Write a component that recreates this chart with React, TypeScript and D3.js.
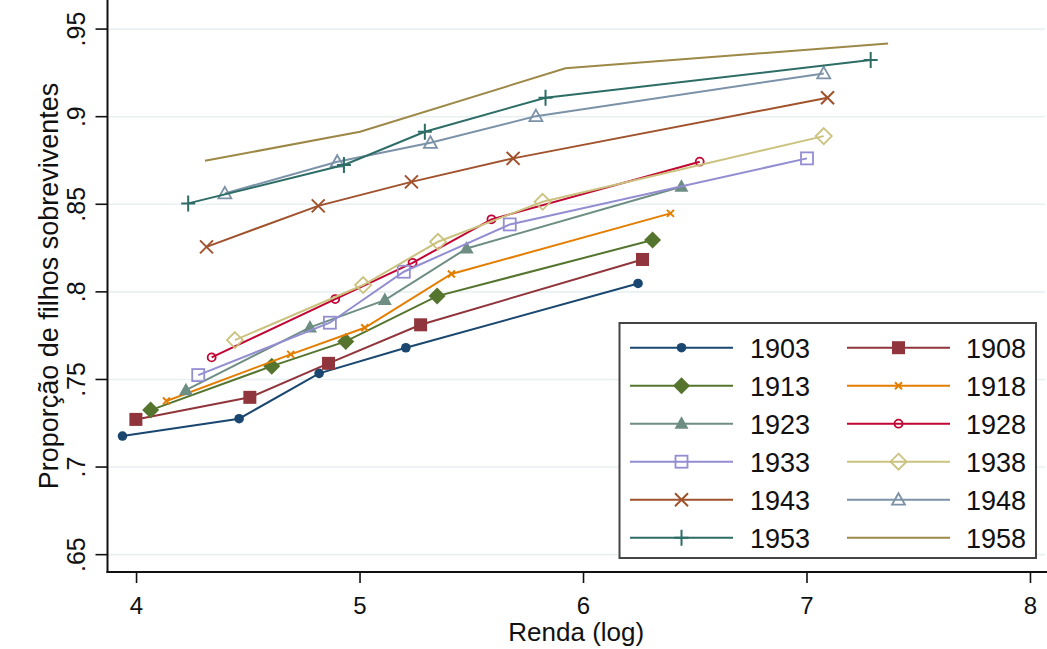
import React from "react";
import * as d3 from "d3";

// ---- data ----
const years = ["1903", "1908", "1913", "1918", "1923", "1928", "1933", "1938", "1943", "1948", "1953", "1958"];

const x1903 = [3.937, 4.459, 4.817, 5.205, 6.244];
const y1903 = [0.7177, 0.7276, 0.7535, 0.7681, 0.8048];
const x1908 = [3.997, 4.507, 4.859, 5.271, 6.264];
const y1908 = [0.7272, 0.7398, 0.7592, 0.7812, 0.8185];
const x1913 = [4.063, 4.605, 4.936, 5.345, 6.309];
const y1913 = [0.7325, 0.7576, 0.7717, 0.7976, 0.8296];
const x1918 = [4.134, 4.69, 5.021, 5.409, 6.389];
const y1918 = [0.7377, 0.7643, 0.7795, 0.8102, 0.8448];
const x1923 = [4.221, 4.776, 5.111, 5.477, 6.438];
const y1923 = [0.7439, 0.7797, 0.7953, 0.8248, 0.86];
const x1928 = [4.336, 4.889, 5.235, 5.588, 6.52];
const y1928 = [0.7626, 0.7959, 0.8166, 0.8414, 0.8743];
const x1933 = [4.276, 4.865, 5.196, 5.67, 7.0];
const y1933 = [0.7525, 0.7824, 0.8115, 0.8385, 0.8762];
const x1938 = [4.44, 5.014, 5.349, 5.817, 7.075];
const y1938 = [0.7725, 0.8039, 0.8286, 0.8514, 0.8889];
const x1943 = [4.313, 4.813, 5.23, 5.685, 7.092];
const y1943 = [0.8257, 0.8491, 0.8628, 0.8762, 0.9108];
const x1948 = [4.395, 4.898, 5.315, 5.787, 7.075];
const y1948 = [0.8562, 0.8743, 0.8851, 0.9003, 0.9247];
const x1953 = [4.231, 4.928, 5.29, 5.83, 7.285];
const y1953 = [0.8505, 0.8724, 0.8914, 0.9108, 0.9323];
const x1958 = [4.306, 5.0, 5.919, 7.363];
const y1958 = [0.8748, 0.8914, 0.9276, 0.9418];

const xs = [x1903, x1908, x1913, x1918, x1923, x1928, x1933, x1938, x1943, x1948, x1953, x1958];
const ys = [y1903, y1908, y1913, y1918, y1923, y1928, y1933, y1938, y1943, y1948, y1953, y1958];

const colors = ["#1a476f", "#90353b", "#55752f", "#e37e00", "#6e8e84", "#c10534", "#938dd2", "#cac27e", "#a0522d", "#7b92a8", "#2d6d66", "#9c8847"];
const markers = ["circleF", "squareF", "diamondF", "xSmall", "triF", "circleH", "squareH", "diamondH", "xBig", "triH", "plus", "none"];

const xTicks = [4, 5, 6, 7, 8];
const xTickLabels = ["4", "5", "6", "7", "8"];
const yTicks = [0.65, 0.7, 0.75, 0.8, 0.85, 0.9, 0.95];
const yTickLabels = [".65", ".7", ".75", ".8", ".85", ".9", ".95"];

const xTitle = "Renda (log)";
const yTitle = "Proporção de filhos sobreviventes";

// ---- layout ----
const W = 1047, H = 649;
const L = 107.5, R = 1045, T = 0, B = 572;
const FONT = "'Liberation Sans', Arial, sans-serif";

function Marker({ type, x, y, color }: { type: string; x: number; y: number; color: string }) {
  const sw = 1.8;
  switch (type) {
    case "circleF":
      return <circle cx={x} cy={y} r={4.8} fill={color} />;
    case "squareF":
      return <rect x={x - 6.5} y={y - 6.5} width={13} height={13} fill={color} />;
    case "diamondF":
      return <path d={`M${x},${y - 8.5}L${x + 8.5},${y}L${x},${y + 8.5}L${x - 8.5},${y}Z`} fill={color} />;
    case "xSmall":
      return <path d={`M${x - 3.5},${y - 3.5}L${x + 3.5},${y + 3.5}M${x - 3.5},${y + 3.5}L${x + 3.5},${y - 3.5}`} stroke={color} strokeWidth={2} />;
    case "triF":
      return <path d={`M${x},${y - 7.5}L${x + 7},${y + 5}L${x - 7},${y + 5}Z`} fill={color} />;
    case "circleH":
      return <circle cx={x} cy={y} r={4} fill="none" stroke={color} strokeWidth={sw} />;
    case "squareH":
      return <rect x={x - 6} y={y - 6} width={12} height={12} fill="none" stroke={color} strokeWidth={sw} />;
    case "diamondH":
      return <path d={`M${x},${y - 8}L${x + 8},${y}L${x},${y + 8}L${x - 8},${y}Z`} fill="none" stroke={color} strokeWidth={sw} />;
    case "xBig":
      return <path d={`M${x - 6.5},${y - 6.5}L${x + 6.5},${y + 6.5}M${x - 6.5},${y + 6.5}L${x + 6.5},${y - 6.5}`} stroke={color} strokeWidth={2} />;
    case "triH":
      return <path d={`M${x},${y - 6.5}L${x + 6.5},${y + 5}L${x - 6.5},${y + 5}Z`} fill="none" stroke={color} strokeWidth={sw} />;
    case "plus":
      return <path d={`M${x - 7},${y}L${x + 7},${y}M${x},${y - 8}L${x},${y + 8}`} stroke={color} strokeWidth={2} />;
    default:
      return null;
  }
}

export default function App() {
  const x = d3.scaleLinear().domain([3.87, 8.065]).range([L, R]);
  const y = d3.scaleLinear().domain([0.6401, 0.9666]).range([B, T]);
  const line = d3.line<[number, number]>().x((d) => x(d[0])).y((d) => y(d[1]));

  const legX = 619.5, legY = 323, legW = 416.5, legH = 235;
  const rowY = (i: number) => 347.7 + i * 38;

  return (
    <svg width={W} height={H} style={{ position: "absolute", left: 0, top: 0, background: "#fff" }} fontFamily={FONT}>
      <rect x={0} y={0} width={W} height={H} fill="#fff" />
      {/* grid */}
      {yTicks.map((t) => (
        <line key={"g" + t} x1={L} x2={R} y1={y(t)} y2={y(t)} stroke="#e8f0f2" strokeWidth={1.6} />
      ))}
      {/* series */}
      {years.map((yr, i) => {
        const pts: [number, number][] = xs[i].map((v, j) => [v, ys[i][j]]);
        return (
          <g key={yr}>
            <path d={line(pts) || ""} fill="none" stroke={colors[i]} strokeWidth={2} />
            {pts.map((p, j) => (
              <Marker key={j} type={markers[i]} x={x(p[0])} y={y(p[1])} color={colors[i]} />
            ))}
          </g>
        );
      })}
      {/* axes */}
      <line x1={L} x2={L} y1={0} y2={B + 1} stroke="#111" strokeWidth={2} />
      <line x1={L - 1} x2={W} y1={B} y2={B} stroke="#111" strokeWidth={2} />
      {yTicks.map((t, i) => (
        <g key={"yt" + t}>
          <line x1={L - 12} x2={L} y1={y(t)} y2={y(t)} stroke="#111" strokeWidth={1.6} />
          <text transform={`translate(85,${y(t)}) rotate(-90)`} textAnchor="middle" fontSize={25} fill="#111">
            {yTickLabels[i]}
          </text>
        </g>
      ))}
      {xTicks.map((t, i) => (
        <g key={"xt" + t}>
          <line x1={x(t)} x2={x(t)} y1={B} y2={B + 11} stroke="#111" strokeWidth={1.6} />
          <text x={x(t)} y={614} textAnchor="middle" fontSize={24} fill="#111">
            {xTickLabels[i]}
          </text>
        </g>
      ))}
      <text x={(L + R) / 2} y={641} textAnchor="middle" fontSize={26} fill="#111">
        {xTitle}
      </text>
      <text transform={`translate(58,${(T + B) / 2}) rotate(-90)`} textAnchor="middle" fontSize={27} fill="#111">
        {yTitle}
      </text>
      {/* legend */}
      <rect x={legX} y={legY} width={legW} height={legH} fill="#fff" stroke="#444" strokeWidth={2} />
      {years.map((yr, i) => {
        const col = i % 2;
        const row = Math.floor(i / 2);
        const lx0 = col === 0 ? 630 : 847;
        const lx1 = col === 0 ? 733 : 950;
        const mx = (lx0 + lx1) / 2;
        const tx = col === 0 ? 750 : 966;
        const cy = rowY(row);
        return (
          <g key={"lg" + yr}>
            <line x1={lx0} x2={lx1} y1={cy} y2={cy} stroke={colors[i]} strokeWidth={2} />
            <Marker type={markers[i]} x={mx} y={cy} color={colors[i]} />
            <text x={tx} y={cy + 10} fontSize={27} fill="#111">
              {yr}
            </text>
          </g>
        );
      })}
    </svg>
  );
}
